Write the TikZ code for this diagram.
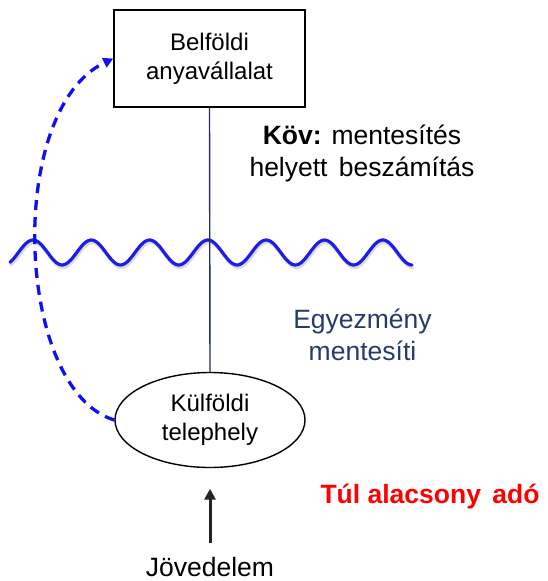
\documentclass[tikz,border=0pt]{standalone}
\usepackage{fontspec}
\setmainfont{Liberation Sans}
\usetikzlibrary{arrows.meta,shapes.geometric}
\definecolor{wavecol}{RGB}{28,28,235}
\definecolor{dashcol}{RGB}{15,15,245}
\definecolor{navyline}{RGB}{35,45,95}
\definecolor{egycol}{RGB}{38,58,110}
\definecolor{redtxt}{RGB}{255,0,0}
\definecolor{arrcol}{RGB}{35,35,35}
\tikzset{
  boxtxt/.style={font=\fontsize{24}{29}\selectfont, align=center},
  bigtxt/.style={font=\fontsize{26.5}{32}\selectfont, align=center, inner sep=0pt},
  wavestyle/.style={draw=wavecol, line width=3.2pt, line cap=round},
  dashstyle/.style={draw=dashcol, line width=3.3pt, dash pattern=on 10pt off 7pt},
}
\begin{document}
\begin{tikzpicture}[x=1pt,y=-1pt]
\useasboundingbox (0,0) rectangle (547,581);
% nodes
\node[boxtxt, draw=black, line width=1.4pt, minimum width=191pt, minimum height=97pt, inner sep=0pt] (box) at (209.5,58.5) {Belföldi\\anyavállalat};
\node[boxtxt, draw=black, line width=1.4pt, ellipse, minimum width=190pt, minimum height=95pt, inner sep=0pt] (ell) at (210,420) {Külföldi\\telephely};
\node[bigtxt] (kov) at (362,153) {\textbf{Köv:} mentesítés\\helyett\hspace{4pt} beszámítás};
\node[bigtxt, text=egycol] (egy) at (362.5,335) {Egyezmény\\mentesíti};
\node[bigtxt, text=redtxt, anchor=base, font=\fontsize{26.5}{32}\selectfont\bfseries] (tul) at (430,503) {Túl alacsony\hspace{4pt} adó};
\node[bigtxt, anchor=base] (jov) at (210,576) {Jövedelem};
% wave with shadow
\draw[gray!60, line width=3.2pt, opacity=0.45, line cap=round, shift={(1pt,-2.5pt)}]
  plot[domain=10:412, samples=200, smooth] (\x,{252.5-12.5*cos(6.175*(\x-33))});
\draw[wavestyle]
  plot[domain=10:412, samples=200, smooth] (\x,{252.5-12.5*cos(6.175*(\x-33))});
% vertical connector
\draw[navyline, line width=1.4pt] (box.south) -- (ell.north);
% dashed curve
\draw[dashstyle, -{Triangle[length=10pt,width=10pt]}] (ell.west) .. controls (15,390) and (5,110) .. (box.west);
% income arrow
\draw[arrcol, line width=3pt, -{Triangle[length=11pt,width=11pt]}] ([yshift=13.5pt]jov.north) -- ([yshift=-20.5pt]ell.south);
\end{tikzpicture}
\end{document}
